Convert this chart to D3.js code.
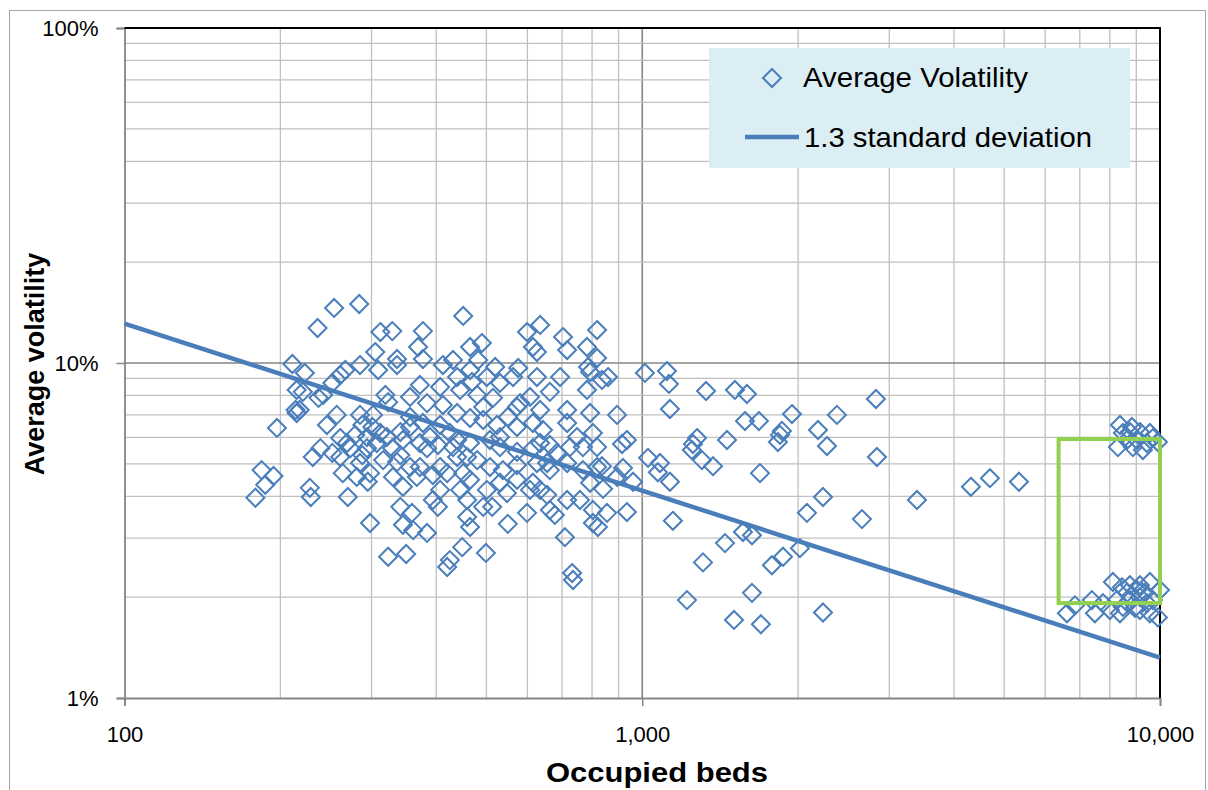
<!DOCTYPE html>
<html><head><meta charset="utf-8">
<script src="https://cdn.jsdelivr.net/npm/d3@7"></script>
<style>
body{margin:0;background:#fff}
svg{display:block}
text{font-family:"Liberation Sans",Arial,sans-serif;fill:#000}
</style>
</head><body>
<svg id="c" width="1208" height="790"></svg>
<script>
// ---- data ----
const beds = [
179,184,187,194,197,215,211,215,214,229,236,254,284,312,329,377,369,305,336,377,451,
465,490,431,599,635,615,626,703,716,782,818,576,786,465,482,520,
223,267,261,285,309,336,412,221,242,252,237,218,257,285,302,319,323,356,372,407,384,412,
288,301,246,279,294,312,341,356,377,407,425,239,252,269,273,294,307,329,341,372,384,403,431,
231,261,285,316,356,407,420,264,281,298,330,367,394,345,228,
439,469,501,531,563,626,694,782,836,445,480,515,581,607,663,716,793,439,465,493,524,550,573,
615,643,716,748,803,818,768,663,725,439,465,508,531,573,615,439,480,508,538,573,626,663,716,
768,451,465,531,573,615,445,501,548,607,655,793,
270,298,323,350,341,359,345,361,384,449,425,420,499,465,459,513,550,599,635,663,678,709,732,
735,803,758,716,403,394,407,459,493,
818,793,859,1012,1116,1126,1328,1510,1593,1131,894,1579,1680,1946,1861,1845,2377,2827,2185,
1458,1276,1253,934,914,1828,2274,
836,918,1026,1082,1072,1131,960,894,840,803,855,821,934,1146,1247,1304,1370,1688,2840,2234,
2080,2657,1565,1629,1445,1310,1780,1870,2016,1629,1220,1504,1695,2234,
3393,4313,4694,5340,
8368,8826,9145,9561,9907,8293,8631,9024,9268,9435,8480,8865,9689,8747,
6611,6849,7387,7486,7758,8003,8111,8256,8442,8480,8631,8747,8747,8944,9024,9145,9145,9145,
9351,9435,9561,9561,9689,9907,10000,8368,
684,818,635,531,573,635,493,389,459,372,655,295,336,345,321,261,356,288
];
const volatility = [
3.96,4.79,4.33,4.60,6.40,7.09,9.93,8.31,7.24,3.98,12.72,14.60,15.00,12.37,12.45,12.45,11.16,10.78,10.28,10.28,13.82,
11.16,11.47,10.21,12.37,12.99,11.16,10.78,11.95,10.93,11.16,12.54,9.66,9.73,9.53,10.21,9.73,
9.34,9.53,9.21,9.86,9.53,9.86,9.86,8.20,8.03,8.72,7.87,7.24,7.00,7.00,7.00,8.03,7.64,7.92,8.60,8.48,7.59,7.49,
6.53,6.44,6.53,6.10,6.01,6.18,6.22,6.44,6.62,6.53,6.18,5.57,5.39,5.77,5.57,5.57,5.77,5.57,5.31,5.77,5.57,5.69,5.61,
5.24,5.24,5.03,5.13,4.89,4.89,4.69,4.69,4.57,4.69,4.57,4.57,4.63,4.27,4.24,
9.08,8.78,9.08,8.72,9.08,9.08,9.08,8.31,8.90,8.31,8.03,7.87,7.59,7.92,8.20,7.24,7.09,7.09,6.85,6.76,6.53,6.90,6.44,
6.62,6.31,6.62,6.01,6.18,5.61,5.61,5.69,5.61,5.89,5.77,5.89,5.61,5.43,5.57,5.24,5.13,4.89,4.79,4.96,5.03,4.79,5.03,
4.79,4.69,4.48,4.39,4.48,4.39,4.18,4.18,4.09,4.18,4.04,4.39,
3.98,3.33,2.64,2.69,3.72,3.57,3.29,3.17,3.11,2.82,2.58,2.46,2.71,3.24,3.47,3.72,3.31,3.57,4.18,3.64,3.52,3.02,2.36,
2.25,3.33,3.90,3.90,3.72,3.90,4.18,3.90,3.72,
10.35,9.40,9.08,9.34,9.46,8.66,8.25,8.31,8.08,7.29,7.00,6.71,6.71,7.04,6.27,6.10,7.00,7.81,6.31,
5.89,5.97,5.73,5.89,5.73,5.81,5.65,
4.92,4.86,5.21,5.03,4.72,4.42,4.42,4.57,4.21,3.64,3.57,3.24,3.59,3.38,5.50,5.13,4.92,4.69,5.24,3.98,
3.57,3.42,3.13,3.06,2.90,2.54,2.49,2.64,2.80,2.06,1.96,1.71,1.66,1.80,
3.90,4.27,4.53,4.42,
6.53,6.44,6.22,6.18,5.81,5.61,5.89,5.89,5.50,5.77,6.18,5.61,5.97,6.22,
1.79,1.89,1.96,1.79,1.92,1.83,2.22,1.96,2.14,1.87,2.06,1.96,2.17,1.86,2.10,2.00,2.17,1.83,
2.06,1.92,2.22,1.79,1.96,1.74,2.10,1.79,
5.39,4.89,5.77,6.01,7.39,7.24,7.39,6.01,5.24,4.89,5.03,4.42,5.06,5.89,6.01,5.97,6.90,5.31
];
const lineBeds = [100, 10000];
const lineVol = [13.1, 1.32];          // "1.3 standard deviation" line, percent
const boxBeds = [6370, 10000];         // highlighted cluster box
const boxVol = [1.92, 5.93];
const xTickValues = [100, 1000, 10000];
const yTickValues = [1, 10, 100];
const seriesNames = ["Average Volatility", "1.3 standard deviation"];
const xTitle = "Occupied beds";
const yTitle = "Average volatility";

if (beds.length !== volatility.length) console.error("length mismatch", beds.length, volatility.length);

// ---- drawing ----
const svg = d3.select("#c");
const L = 124.5, R = 1160, T = 28, B = 698;
const blue = "#4a7ebb";

const x = d3.scaleLog().domain([100, 10000]).range([L, R]);
const y = d3.scaleLog().domain([1, 100]).range([B, T]);

// outer chart border
svg.append("rect").attr("x", 9.5).attr("y", 10.5).attr("width", 1196).attr("height", 800)
  .attr("fill", "#fff").attr("stroke", "#a6a6a6").attr("stroke-width", 1);

// gridlines
const g = svg.append("g");
const xg = x.ticks().filter(d => d > 100 && d < 10000);
const yg = y.ticks().filter(d => d > 1 && d < 100);
const isMajor = d => Math.abs(Math.log10(d) - Math.round(Math.log10(d))) < 1e-9;
g.selectAll(".vx").data(xg).join("line")
  .attr("x1", d => x(d)).attr("x2", d => x(d)).attr("y1", T).attr("y2", B)
  .attr("stroke", d => isMajor(d) ? "#868686" : "#c0c0c0")
  .attr("stroke-width", d => isMajor(d) ? 1.6 : 1.3);
g.selectAll(".hy").data(yg).join("line")
  .attr("y1", d => y(d)).attr("y2", d => y(d)).attr("x1", L).attr("x2", R)
  .attr("stroke", d => isMajor(d) ? "#868686" : "#c0c0c0")
  .attr("stroke-width", d => isMajor(d) ? 1.6 : 1.3);

// axes
const ax = svg.append("g").attr("transform", `translate(0,${B})`)
  .call(d3.axisBottom(x).tickValues(xTickValues).tickFormat(d3.format(",")).tickSize(8).tickPadding(20));
const ay = svg.append("g").attr("transform", `translate(${L},0)`)
  .call(d3.axisLeft(y).tickValues(yTickValues).tickFormat(d => d + "%").tickSize(8).tickPadding(18));
[ax, ay].forEach(a => {
  a.select(".domain").attr("stroke", "#868686").attr("stroke-width", 1.8);
  a.selectAll(".tick line").attr("stroke", "#868686").attr("stroke-width", 1.5);
  a.selectAll(".tick text").attr("font-size", 22).attr("font-family", "Liberation Sans, Arial, sans-serif").attr("fill", "#000");
});
ay.selectAll(".tick text").attr("dy", "0.36em");
ax.selectAll(".tick text").attr("dy", "0.71em");

// top and right plot edges (dark)
svg.append("line").attr("x1", L).attr("x2", R + 1).attr("y1", T).attr("y2", T).attr("stroke", "#000").attr("stroke-width", 2);
svg.append("line").attr("x1", R).attr("x2", R).attr("y1", T).attr("y2", B).attr("stroke", "#000").attr("stroke-width", 2);

// diamonds
const diamond = "M0,-9L9,0L0,9L-9,0Z";
const pts = d3.zip(beds, volatility);
svg.append("g").selectAll("path").data(pts).join("path")
  .attr("d", diamond)
  .attr("transform", d => `translate(${x(d[0])},${y(d[1])})`)
  .attr("fill", "none").attr("stroke", blue).attr("stroke-width", 2);

// std dev line
svg.append("path")
  .datum(d3.zip(lineBeds, lineVol))
  .attr("d", d3.line().x(d => x(d[0])).y(d => y(d[1])))
  .attr("fill", "none").attr("stroke", blue).attr("stroke-width", 4.5);

// green box
svg.append("rect")
  .attr("x", x(boxBeds[0])).attr("y", y(boxVol[1]))
  .attr("width", x(boxBeds[1]) - x(boxBeds[0])).attr("height", y(boxVol[0]) - y(boxVol[1]))
  .attr("fill", "none").attr("stroke", "#92d050").attr("stroke-width", 4);

// legend
const lg = svg.append("g");
lg.append("rect").attr("x", 709).attr("y", 48).attr("width", 421).attr("height", 120).attr("fill", "#dbeef4");
lg.append("path").attr("d", diamond).attr("transform", "translate(772,78)")
  .attr("fill", "none").attr("stroke", blue).attr("stroke-width", 2);
lg.append("text").attr("x", 803).attr("y", 87).attr("font-size", 28)
  .attr("textLength", 225).attr("lengthAdjust", "spacingAndGlyphs").text(seriesNames[0]);
lg.append("line").attr("x1", 745).attr("x2", 799).attr("y1", 137).attr("y2", 137)
  .attr("stroke", blue).attr("stroke-width", 4.5);
lg.append("text").attr("x", 804).attr("y", 147).attr("font-size", 28)
  .attr("textLength", 288).attr("lengthAdjust", "spacingAndGlyphs").text(seriesNames[1]);

// axis titles
svg.append("text").attr("x", 657).attr("y", 782).attr("text-anchor", "middle")
  .attr("font-size", 28).attr("font-weight", "bold")
  .attr("textLength", 222).attr("lengthAdjust", "spacingAndGlyphs").text(xTitle);
svg.append("text").attr("transform", "translate(44,364) rotate(-90)").attr("text-anchor", "middle")
  .attr("font-size", 27).attr("font-weight", "bold").text(yTitle);
</script>
</body></html>
